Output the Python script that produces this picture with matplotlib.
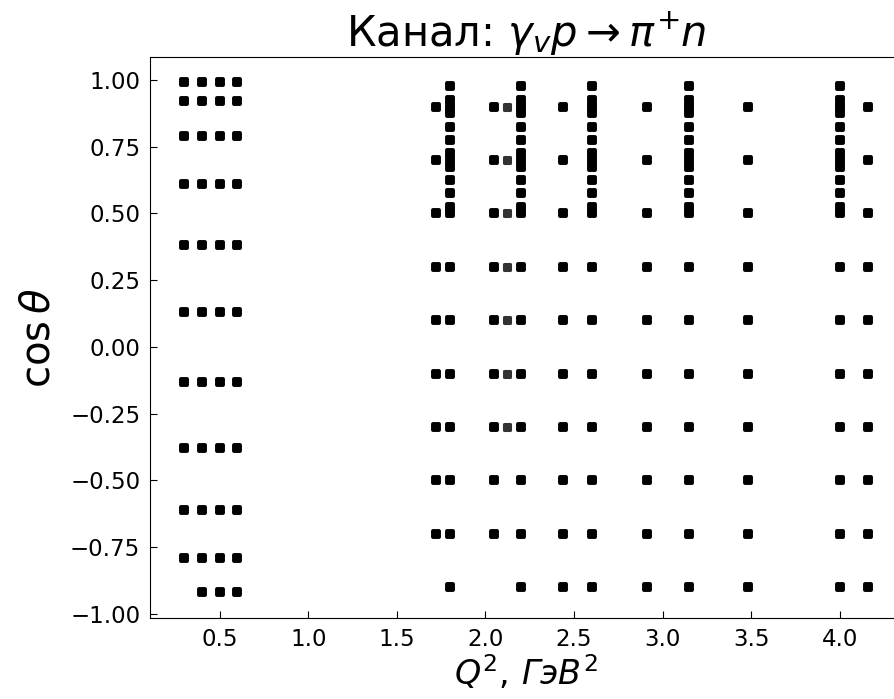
import matplotlib
matplotlib.use("Agg")
import matplotlib.pyplot as plt
from matplotlib.markers import MarkerStyle

# low Q^2 set: cos(theta) bins, number of bins present per Q^2 (from the top)
q2_low = [0.3, 0.4, 0.5, 0.6]
cos_low = [0.99, 0.92, 0.79, 0.61, 0.38, 0.13, -0.13, -0.38, -0.61, -0.79, -0.92]
low_rows = [10, 11, 11, 11]

# high Q^2 set on a regular cos grid
q2_grid = [1.72, 1.80, 2.05, 2.20, 2.44, 2.60, 2.91, 3.15, 3.48, 4.00, 4.16]
cos_grid = [0.9, 0.7, 0.5, 0.3, 0.1, -0.1, -0.3, -0.5, -0.7, -0.9]
grid_rows = [9, 10, 9, 10, 10, 10, 10, 10, 10, 10, 10]

# forward-angle fine binning
q2_dense = [1.80, 2.20, 2.60, 3.15, 4.00]
cos_dense = [0.975, 0.925, 0.875, 0.825, 0.775, 0.725, 0.675, 0.625, 0.575, 0.525]

# extra (faint) set
q2_extra = [2.12]
extra_rows = [7]

fig = plt.figure(figsize=(8.95, 6.99), dpi=100)
ax = fig.add_axes([0.1676, 0.1159, 0.8408, 0.8026])

mk = MarkerStyle("s", joinstyle="round")
style = dict(ls="none", marker=mk, color="black", markersize=5.0, mew=2.8)

xs, ys = [], []
for q, n in zip(q2_low, low_rows):
    for c in cos_low[:n]:
        xs.append(q)
        ys.append(c)
ax.plot(xs, ys, **style)

xs, ys = [], []
for q, n in zip(q2_grid, grid_rows):
    for c in cos_grid[:n]:
        xs.append(q)
        ys.append(c)
ax.plot(xs, ys, **style)

xs, ys = [], []
for q in q2_dense:
    for c in cos_dense:
        xs.append(q)
        ys.append(c)
ax.plot(xs, ys, **style)

xs, ys = [], []
for q, n in zip(q2_extra, extra_rows):
    for c in cos_grid[:n]:
        xs.append(q)
        ys.append(c)
ax.plot(xs, ys, ls="none", marker=mk, color="#333333", markersize=4.0, mew=2.2)

ax.tick_params(direction="in", labelsize=16.5, length=5, pad=7)
ax.set_title(r"Канал: $\gamma_v p \rightarrow \pi^{\!+}\!n$", fontsize=30)
ax.set_xlabel(r"$Q^2,\, ГэВ^2$", fontsize=24, labelpad=2)
ax.set_ylabel(r"$\cos\theta$", fontsize=29, labelpad=8)

fig.savefig("out.png", dpi=100)
